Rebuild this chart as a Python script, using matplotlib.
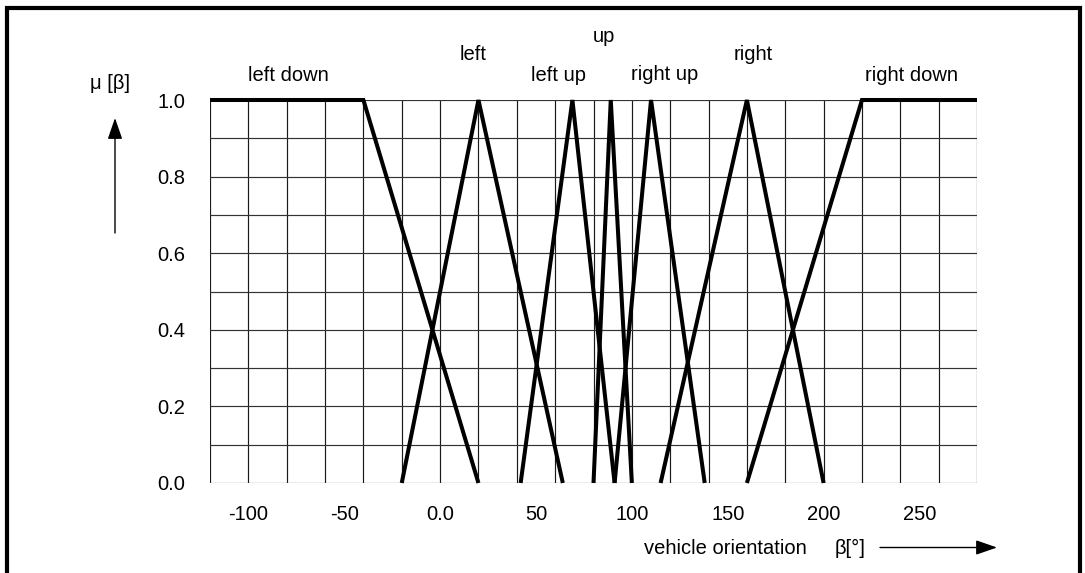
import numpy as np
import matplotlib.pyplot as plt
from matplotlib.lines import Line2D

plt.rcParams['font.family'] = ['Liberation Sans', 'DejaVu Sans']

# membership functions (beta in degrees, mu)
names = ['left down', 'left', 'left up', 'up', 'right up', 'right', 'right down']
beta = [
    [-120, -40, 20],
    [-20, 20, 64],
    [42, 69, 91],
    [80, 89, 100],
    [91, 110, 138],
    [115, 160, 200],
    [160, 220, 280],
]
mu = [
    [1, 1, 0],
    [0, 1, 0],
    [0, 1, 0],
    [0, 1, 0],
    [0, 1, 0],
    [0, 1, 0],
    [0, 1, 1],
]
xticks = [-100, -50, 0, 50, 100, 150, 200, 250]
xticklabels = ['-100', '-50', '0.0', '50', '100', '150', '200', '250']
yticks = [0.0, 0.2, 0.4, 0.6, 0.8, 1.0]
yticklabels = ['0.0', '0.2', '0.4', '0.6', '0.8', '1.0']

fig = plt.figure(figsize=(10.85, 5.73), dpi=100)
ax = fig.add_axes([210/1085, 90/573, 767/1085, 383/573])

# grid every 20 deg and 0.1
gx = np.arange(-120, 281, 20)
gy = np.arange(0, 1.01, 0.1)
ax.vlines(gx, 0, 1, color='#1a1a1a', lw=0.85, zorder=1)
ax.hlines(gy, -120, 280, color='#333333', lw=0.85, zorder=1)

for bx, by in zip(beta, mu):
    ax.plot(bx, by, color='black', lw=2.9, solid_joinstyle='miter',
            solid_capstyle='butt', zorder=3, clip_on=False)

ax.set_xlim(-120, 280)
ax.set_ylim(0, 1)
ax.set_xticks(xticks)
ax.set_xticklabels(xticklabels)
ax.set_yticks(yticks)
ax.set_yticklabels(yticklabels)
ax.tick_params(axis='x', length=0, pad=16, labelsize=14.5)
ax.tick_params(axis='y', length=0, pad=18, labelsize=14.5)
for s in ax.spines.values():
    s.set_visible(False)

# set names above the plot
label_pos = [(-79, 1.049), (17, 1.104), (62, 1.049), (85.5, 1.151),
             (117.3, 1.052), (163.2, 1.104), (245.9, 1.049)]
for n, (lx, ly) in zip(names, label_pos):
    ax.text(lx, ly, n, ha='center', va='baseline', fontsize=14.5, clip_on=False)

# axis labels and arrows
fig.text(110/1085, 1 - 84/573, 'μ [β]', ha='center', va='center', fontsize=14.5)
ax.annotate('', xy=(115/1085, 1 - 118/573), xytext=(115/1085, 1 - 233/573),
            xycoords='figure fraction', textcoords='figure fraction',
            arrowprops=dict(arrowstyle='-|>,head_length=1.3,head_width=0.45',
                            color='black', lw=1.0, shrinkA=0, shrinkB=0))
fig.text(807/1085, 1 - 554/573, 'vehicle orientation', ha='right', va='baseline', fontsize=14.5)
fig.text(835/1085, 1 - 554/573, 'β[°]', ha='left', va='baseline', fontsize=14.5)
ax.annotate('', xy=(997/1085, 1 - 547.5/573), xytext=(880/1085, 1 - 547.5/573),
            xycoords='figure fraction', textcoords='figure fraction',
            arrowprops=dict(arrowstyle='-|>,head_length=1.3,head_width=0.45',
                            color='black', lw=1.0, shrinkA=0, shrinkB=0))

# frame around the figure (no bottom edge)
fx = [7/1085, 7/1085, 1080/1085, 1080/1085]
fy = [0, 1 - 7.5/573, 1 - 7.5/573, 0]
fig.add_artist(Line2D(fx, fy, transform=fig.transFigure, color='black', lw=3.0,
                      solid_joinstyle='miter'))

fig.savefig('out.png', dpi=100)
